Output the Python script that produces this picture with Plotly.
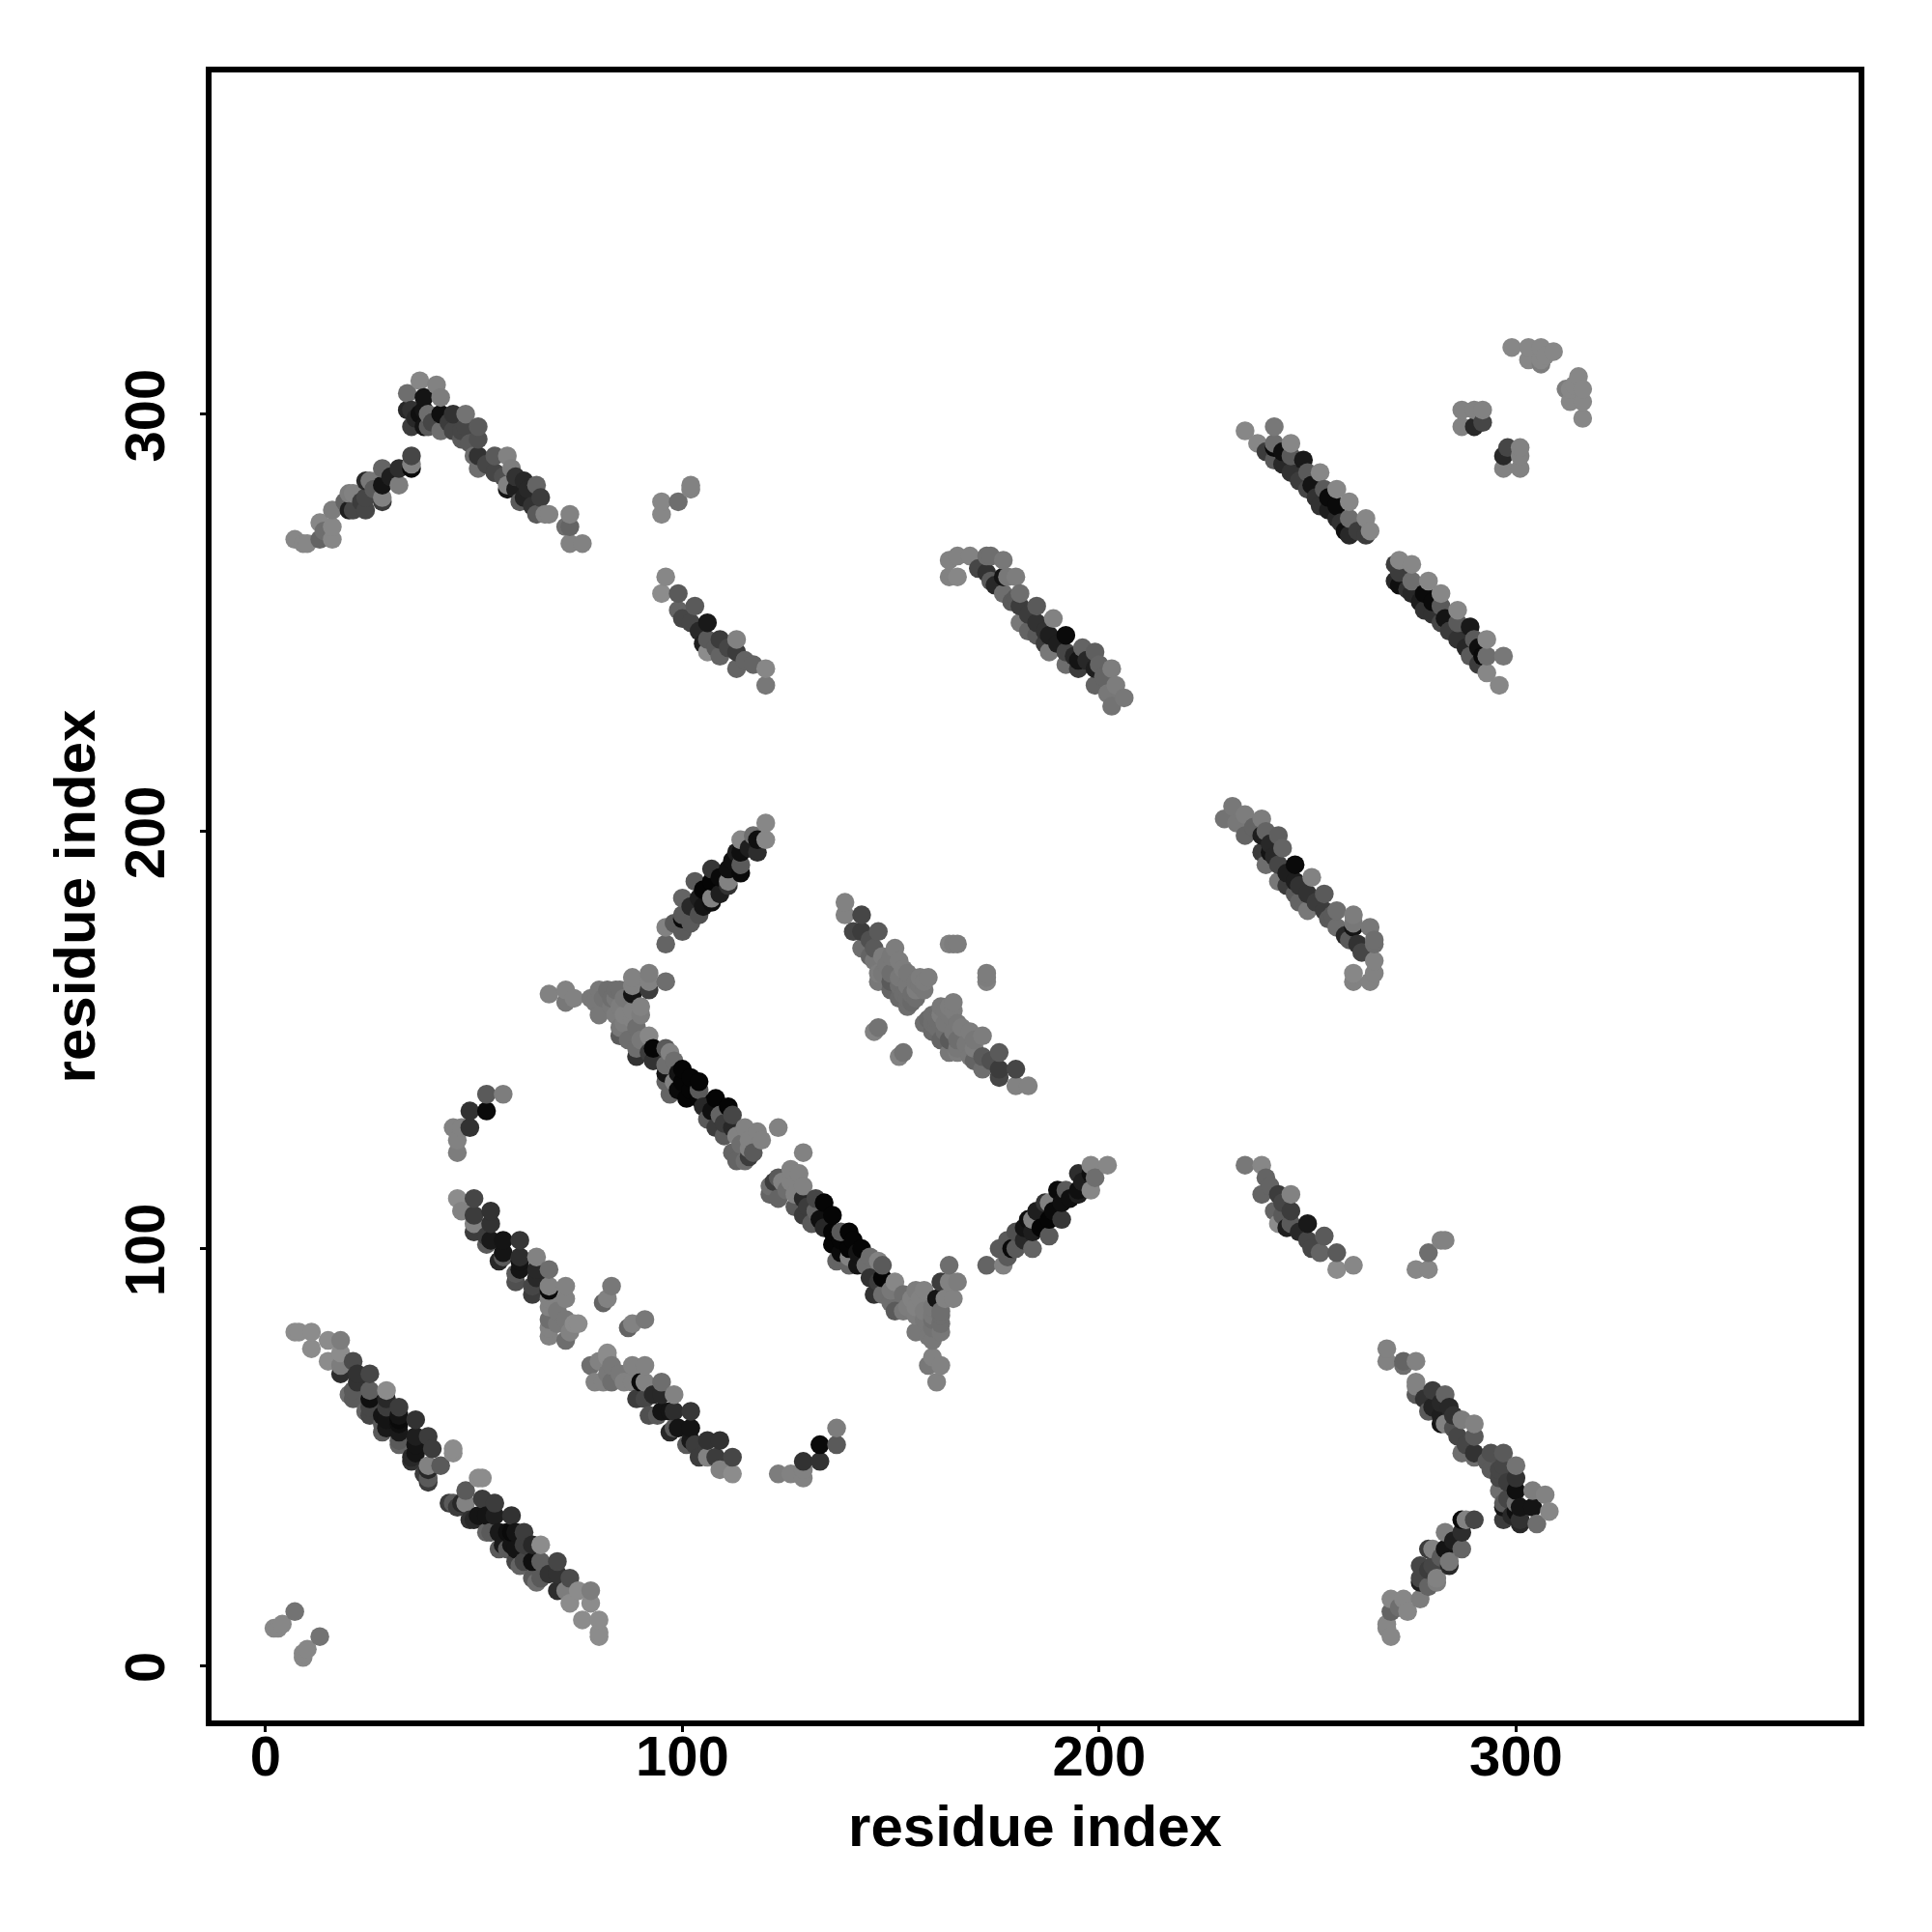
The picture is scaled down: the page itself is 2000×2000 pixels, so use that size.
import plotly.graph_objects as go
import pandas as pd

# Each contact: (residue i, residue j, grey level). The map is symmetric, so each is also drawn as (j, i).
corner = [(7,13,115),(4,10,135),(2,9,135),(3,9,135)]
hairpin_a = [(7,80,140),(8,80,140),(11,80,140),(11,76,140),(15,78,140),(18,78,125),(15,73,140),(18,75,140),
 (18,70,45),(18,72,125),(21,73,75),(22,70,50),(25,70,70),(21,66,90),(20,65,110),(25,66,95),(29,66,140),(25,62,70),(24,61,100),
 (25,64,15),(29,62,60),(32,62,60),(29,59,20),(32,58,15),(28,58,90),(28,60,20),(32,60,20),(36,59,50),(32,54,90),(32,56,25),(36,55,30),
 (39,55,60),(36,51,20),(35,50,40),(40,52,60),(45,52,140),(45,51,140),(39,48,130),(42,48,90),(39,45,90),(39,47,40),(38,46,60),
 (21,64,90),(25,60,70),(28,56,90),(29,57,25),(32,53,100),(35,49,50),(39,44,60),(36,53,20),(22,68,50),(29,64,40),(32,59,10)]
hairpin_b = [(46,112,140),(47,109,130),(50,112,70),(50,108,60),(50,106,130),(54,109,50),(54,106,50),(54,102,25),(53,101,90),
 (57,102,20),(61,102,55),(57,98,90),(56,97,40),(61,98,45),(65,98,130),(61,95,20),(65,95,40),(60,94,90),(68,95,110),(64,91,70),
 (68,91,130),(68,90,10),(72,91,130),(68,88,130),(72,88,130),(68,83,110),(68,81,130),(72,83,120),(75,82,140),(72,78,110),
 (73,80,130),(74,82,140),(70,82,120),(83,91,120),(82,88,130),(81,87,100),
 (53,103,60),(57,99,20),(60,92,80),(64,89,60),(50,104,60),(61,97,20),(65,93,40),(68,86,130),(70,85,120),(68,79,130)]
arm_ac = [(49,133,50),(53,133,10),(53,137,90),(57,137,125),(49,129,50),(45,129,130),(46,126,130),(46,123,125),(47,129,130)]
strip_c = [(68,161,130),(72,162,130),(72,159,120),(74,160,130),(78,160,120),(80,162,120),(80,156,120),(82,162,110),(85,162,110),
 (85,158,125),(84,160,120),(88,165,130),(88,161,20),(88,163,130),(92,166,125),(92,162,60),(92,164,130),(96,164,110),(88,157,130),
 (85,153,120),(85,151,90),(89,153,110),(89,148,110),(89,146,50),(92,151,135),(93,148,5),(93,145,50),(96,148,90),(97,147,130),(96,144,110),
 (96,142,20),(96,140,100),(97,137,100),(98,140,130),(100,143,5),(100,140,5),(101,136,5),(104,140,5),(104,136,5),(104,138,90),(108,136,5),
 (107,133,15),(108,129,60),(109,132,100),(112,132,70),(112,129,40),(115,129,130),(116,126,130),(119,126,130),(123,129,130),(112,123,100),
 (116,122,60),(115,121,110),(114,125,110),(116,124,130),
 (84,156,125),(86,156,130),(88,155,130),(90,158,130),(86,160,120),(90,156,125),(83,158,120),(86,154,125),(79,159,120),(81,160,115),
 (83,160,110),(84,162,110),(90,150,120),(87,150,110),(92,147,60),(98,145,110),(99,138,10),(102,138,5),(102,141,5),(99,142,20),
 (105,134,40),(106,131,90),(110,130,60),(111,134,5),(113,127,130),(117,123,90),(113,121,100),(118,128,130),(110,127,90)]
arm_cd = [(120,202,135),(120,198,135),(118,198,15),(117,199,110),(114,198,135),(114,195,15),(118,195,45),(113,195,30),(114,192,90),(114,190,10),
 (111,191,15),(111,188,130),(111,187,50),(107,191,55),(107,188,5),(107,184,130),(107,183,15),(103,188,90),(104,184,30),(100,184,100),
 (104,180,80),(100,180,90),(100,179,10),(100,176,90),(96,177,130),(96,173,100),
 (102,182,40),(105,186,5),(109,189,10),(112,193,15),(98,178,90),(102,178,90),(105,182,20),(109,185,30),(116,196,30)]
cross_d = [(139,183,130),(139,180,130),(143,180,70),(143,176,60),(147,176,90),(143,172,110),(146,172,90),(151,172,125),(146,169,120),(152,169,125),
 (147,164,120),(147,166,125),(154,166,120),(159,165,125),(157,163,120),(154,160,110),(152,163,110),(154,163,120),(150,164,90),(153,161,110),
 (156,162,125),(155,159,105),(158,164,125),(156,160,110),(150,166,110),(149,168,120),
 (147,153,115),(146,152,130),(165,173,125),(164,173,130),(166,173,125),
 (148,166,120),(150,162,100),(152,160,105),(154,158,110),(156,164,120),(158,162,120),(152,165,120),(155,161,110),(157,165,125),(148,170,125),
 (153,167,125),(145,170,100),(145,174,80),(141,176,70),(150,170,120)]
arm_e = [(95,279,135),(95,276,135),(99,279,110),(102,283,130),(102,282,130)]
strip_f = [(96,261,135),(95,257,140),(99,257,90),(99,253,100),(103,254,90),(102,250,70),(106,250,25),(106,246,90),(105,245,30),(106,243,140),(109,246,60),
 (109,242,100),(113,246,130),(113,243,60),(113,239,100),(117,240,100),(120,239,135),(120,235,120),
 (100,251,70),(104,248,40),(111,244,70),(115,241,100),(108,244,90)]
strip_g = [(164,265,130),(164,261,130),(166,261,135),(166,266,130),(169,266,130),(173,266,110),(174,266,110),(173,262,50),(174,260,90),(177,265,120),
 (177,261,20),(178,261,120),(180,261,125),(177,257,110),(181,257,110),(181,254,60),(180,256,90),(185,254,90),(181,250,120),(185,250,50),(189,251,130),
 (185,247,90),(188,247,30),(192,247,10),(188,243,120),(192,243,70),(196,244,100),(192,240,110),(195,241,20),(195,239,60),(199,243,95),(199,239,30),
 (200,240,100),(203,239,125),(199,235,100),(204,235,125),(202,233,120),(206,232,120),(203,230,115),
 (171,263,70),(175,259,40),(179,255,90),(183,252,60),(187,248,50),(190,245,30),(194,242,40),(197,241,40),(201,237,100),(183,248,100),(187,245,60)]
arm_h = [(7,270,135),(9,269,135),(10,269,135),(13,270,100),(13,274,135),(16,270,135),(16,273,135),(16,277,125),(20,277,30),(21,277,70),(24,277,70),
 (20,281,125),(21,281,130),(24,280,70),(28,280,130),(24,284,40),(25,284,120),(28,283,20),(28,279,60),(28,287,100),(32,287,45),(32,283,125),(35,287,10),(35,288,130),(35,290,70),
 (37,308,135),(41,307,130),(34,305,110),(38,304,20),(42,304,125),(35,301,50),(34,301,40),(38,301,20),(39,300,110),(42,300,15),(45,300,50),(48,300,115),
 (35,297,60),(38,297,20),(39,297,90),(42,296,110),(45,296,70),(48,297,70),(51,297,90),(47,294,90),(51,294,80),(50,290,110),(51,290,50),(51,287,110),
 (55,290,90),(58,290,130),(55,286,70),(59,287,125),(58,283,130),(58,282,20),(62,284,40),(65,283,100),(62,280,35),(66,280,60),(61,279,90),(65,276,90),
 (67,276,130),(68,276,130),(73,276,130),(73,273,100),(72,273,110),(73,269,130),(76,269,130),
 (23,279,60),(26,282,90),(30,285,30),(19,279,100),(14,272,110),(36,299,40),(40,298,70),(44,298,60),(47,296,70),(53,288,70),(57,285,80),(60,282,30),
 (64,278,50),(37,300,15),(49,293,90),(60,285,50),(63,282,40)]
strip_k = [(235,296,135),(238,293,135),(242,297,120),(242,293,110),(242,292,10),(242,289,90),(246,293,135),(246,290,90),(249,289,25),(246,286,50),
 (250,286,90),(253,286,135),(250,282,70),(254,282,90),(257,282,135),(253,278,50),(257,278,10),(260,279,135),(257,275,40),(260,275,110),(264,275,135),
 (260,271,40),(264,271,60),(265,272,135),(259,272,15),
 (240,291,60),(244,288,40),(248,284,60),(252,280,50),(255,277,30),(258,274,50),(262,272,60),(244,291,15),(251,283,20),(255,280,10)]
patch_m = [(287,301,130),(290,301,130),(292,301,130),(287,297,130),(290,297,40),(292,298,70)]
patch_n = [(299,316,135),(303,316,135),(306,316,135),(309,315,135),(303,313,135),(306,312,125),(307,314,135),(306,313,135)]

clusters = [corner, hairpin_a, hairpin_b, arm_ac, strip_c, arm_cd, cross_d, arm_e, strip_f, strip_g, arm_h, strip_k, patch_m, patch_n]
x_ticks = [0, 100, 200, 300]
y_ticks = [0, 100, 200, 300]
x_title = "residue index"
y_title = "residue index"

rows = []
for c in clusters:
    for i, j, g in c:
        rows.append((i, j, g))
        rows.append((j, i, g))
df = pd.DataFrame(rows, columns=["x", "y", "g"]).sort_values(["x", "y"])

fig = go.Figure(go.Scatter(
    x=df.x, y=df.y, mode="markers",
    marker=dict(size=19.5, color=[f"rgb({g},{g},{g})" for g in df.g], line=dict(width=0)),
    hoverinfo="skip",
))
font = dict(family="Liberation Sans", size=58, color="black", weight="bold")
tfont = dict(family="Liberation Sans", size=60, color="black", weight="bold")
common = dict(showgrid=False, zeroline=False, showline=True, mirror=True, linewidth=6, linecolor="black",
              ticks="outside", ticklen=6, tickwidth=2.5, tickcolor="black", tickfont=font)
fig.update_xaxes(range=[-12.97, 382.2], tickvals=x_ticks, title=dict(text=x_title, font=tfont, standoff=22), ticklabelstandoff=-25, **common)
fig.update_yaxes(range=[-13.09, 381.9], tickvals=y_ticks, tickangle=-90, title=dict(text=y_title, font=tfont, standoff=1), ticklabelstandoff=14, ticklabelshift=10, **common)
fig.update_layout(width=2000, height=2000, autosize=False, showlegend=False, plot_bgcolor="white", paper_bgcolor="white",
                  margin=dict(l=211, r=83.5, t=66.75, b=226.75))
fig.write_html("out.html")
